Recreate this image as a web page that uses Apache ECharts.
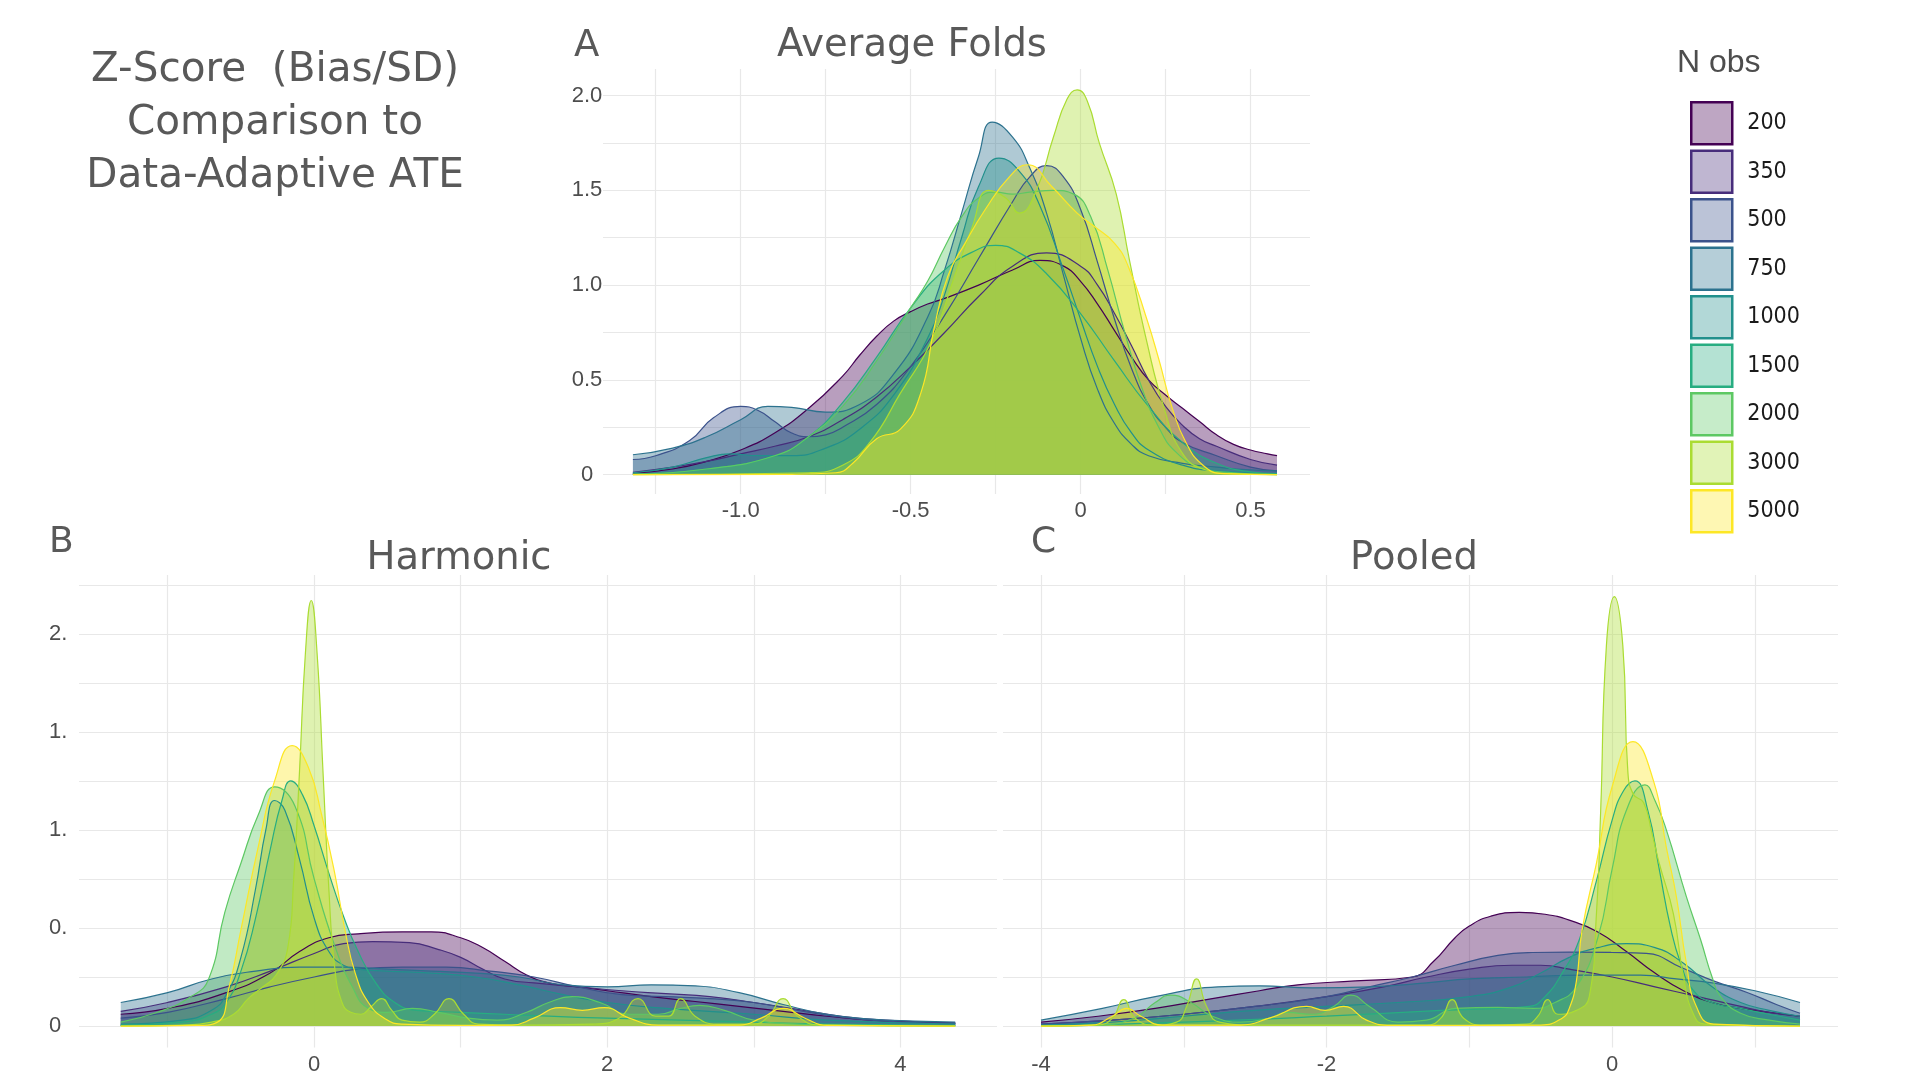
<!DOCTYPE html>
<html>
<head>
<meta charset="utf-8">
<script src="https://cdn.jsdelivr.net/npm/echarts@6/dist/echarts.min.js"></script>
<style>
html, body { margin: 0; padding: 0; background: #fff; }
#main { width: 1920px; height: 1080px; }
</style>
</head>
<body>
<div id="main"></div>
<script>
// N obs groups, viridis palette
var groups = ['200', '350', '500', '750', '1000', '1500', '2000', '3000', '5000'];
var colors = ['#440154', '#472D7B', '#3B528B', '#2C728E', '#21908C', '#27AD81', '#5DC863', '#AADC32', '#FDE725'];

// density curves, [z-score, density]
// A - Average Folds
var avg200 = [[-1.317,0.007],[-1.2,0.03],[-1.1,0.07],[-1.0,0.13],[-0.9,0.22],[-0.8,0.35],[-0.7,0.52],[-0.65,0.63],[-0.6,0.73],[-0.55,0.81],[-0.5,0.86],[-0.45,0.9],[-0.4,0.93],[-0.3,1.0],[-0.2,1.08],[-0.12,1.13],[-0.05,1.1],[0,1.02],[0.05,0.9],[0.1,0.76],[0.15,0.62],[0.2,0.5],[0.25,0.42],[0.3,0.35],[0.35,0.28],[0.4,0.21],[0.45,0.16],[0.5,0.13],[0.55,0.11],[0.578,0.1]];
var avg350 = [[-1.317,0.012],[-1.2,0.04],[-1.1,0.07],[-1.0,0.11],[-0.9,0.15],[-0.8,0.2],[-0.7,0.29],[-0.6,0.41],[-0.5,0.57],[-0.4,0.75],[-0.3,0.94],[-0.2,1.1],[-0.1,1.17],[0,1.1],[0.05,1.0],[0.1,0.85],[0.15,0.68],[0.2,0.5],[0.25,0.36],[0.3,0.26],[0.35,0.19],[0.4,0.15],[0.5,0.08],[0.578,0.05]];
var avg500 = [[-1.317,0.08],[-1.25,0.1],[-1.15,0.18],[-1.08,0.3],[-1.0,0.36],[-0.95,0.34],[-0.9,0.28],[-0.85,0.22],[-0.8,0.2],[-0.75,0.21],[-0.7,0.25],[-0.6,0.37],[-0.5,0.57],[-0.4,0.84],[-0.3,1.14],[-0.2,1.44],[-0.15,1.57],[-0.1,1.63],[-0.05,1.57],[0,1.4],[0.05,1.12],[0.1,0.82],[0.15,0.56],[0.2,0.37],[0.25,0.25],[0.3,0.17],[0.4,0.1],[0.5,0.04],[0.578,0.02]];
var avg750 = [[-1.317,0.105],[-1.2,0.14],[-1.1,0.2],[-1.0,0.29],[-0.92,0.36],[-0.85,0.355],[-0.75,0.33],[-0.65,0.37],[-0.55,0.53],[-0.45,0.83],[-0.4,1.08],[-0.35,1.38],[-0.3,1.68],[-0.26,1.86],[-0.2,1.78],[-0.15,1.62],[-0.1,1.38],[-0.05,1.05],[0,0.72],[0.05,0.45],[0.1,0.27],[0.15,0.16],[0.2,0.1],[0.3,0.06],[0.4,0.04],[0.5,0.025],[0.578,0.02]];
var avg1000 = [[-1.317,0.01],[-1.2,0.04],[-1.1,0.09],[-1.03,0.11],[-0.95,0.1],[-0.85,0.1],[-0.75,0.14],[-0.65,0.24],[-0.55,0.42],[-0.45,0.72],[-0.4,0.95],[-0.35,1.25],[-0.3,1.52],[-0.24,1.67],[-0.18,1.6],[-0.12,1.42],[-0.05,1.08],[0,0.82],[0.05,0.57],[0.1,0.37],[0.15,0.22],[0.2,0.13],[0.3,0.05],[0.4,0.02],[0.578,0.005]];
var avg1500 = [[-1.317,0.003],[-1.1,0.03],[-0.9,0.1],[-0.8,0.2],[-0.7,0.38],[-0.6,0.62],[-0.5,0.88],[-0.4,1.08],[-0.3,1.19],[-0.25,1.21],[-0.18,1.17],[-0.1,1.06],[0,0.85],[0.1,0.6],[0.2,0.36],[0.3,0.17],[0.4,0.06],[0.5,0.015],[0.578,0.005]];
var avg2000 = [[-1.317,0.003],[-1.1,0.03],[-0.9,0.1],[-0.8,0.2],[-0.7,0.36],[-0.6,0.6],[-0.5,0.88],[-0.45,1.02],[-0.4,1.2],[-0.35,1.36],[-0.3,1.46],[-0.25,1.49],[-0.2,1.48],[-0.15,1.49],[-0.08,1.5],[-0.02,1.48],[0.03,1.36],[0.08,1.08],[0.13,0.75],[0.18,0.46],[0.23,0.25],[0.28,0.12],[0.35,0.04],[0.45,0.01],[0.578,0]];
var avg3000 = [[-1.317,0],[-0.8,0.01],[-0.7,0.05],[-0.62,0.17],[-0.53,0.43],[-0.44,0.7],[-0.37,1.05],[-0.32,1.3],[-0.27,1.5],[-0.22,1.46],[-0.18,1.38],[-0.13,1.5],[-0.08,1.78],[-0.04,1.98],[-0.01,2.03],[0.02,1.97],[0.055,1.75],[0.105,1.48],[0.144,1.13],[0.195,0.7],[0.246,0.35],[0.297,0.12],[0.36,0.03],[0.45,0.005],[0.578,0]];
var avg5000 = [[-1.317,0],[-0.85,0.002],[-0.72,0.01],[-0.67,0.06],[-0.6,0.19],[-0.53,0.24],[-0.47,0.43],[-0.43,0.78],[-0.39,1.05],[-0.34,1.22],[-0.28,1.4],[-0.21,1.57],[-0.156,1.635],[-0.085,1.52],[-0.01,1.38],[0.04,1.31],[0.1,1.22],[0.14,1.1],[0.195,0.82],[0.23,0.61],[0.27,0.35],[0.31,0.17],[0.36,0.05],[0.42,0.005],[0.578,0]];

// B - Harmonic
var harm200 = [[-1.32,0.06],[-1.0,0.09],[-0.6,0.17],[-0.3,0.27],[-0.1,0.38],[0.1,0.45],[0.3,0.47],[0.6,0.48],[0.8,0.48],[1.0,0.45],[1.15,0.4],[1.3,0.33],[1.45,0.26],[1.6,0.22],[1.8,0.2],[2.0,0.18],[2.3,0.15],[2.6,0.125],[2.9,0.1],[3.2,0.075],[3.5,0.05],[3.8,0.03],[4.1,0.02],[4.375,0.015]];
var harm350 = [[-1.32,0.075],[-1.0,0.12],[-0.6,0.2],[-0.3,0.28],[0,0.37],[0.2,0.42],[0.4,0.43],[0.65,0.425],[0.85,0.39],[1.0,0.35],[1.15,0.29],[1.3,0.24],[1.5,0.22],[1.8,0.2],[2.1,0.18],[2.4,0.165],[2.7,0.15],[3.0,0.12],[3.3,0.085],[3.6,0.05],[3.9,0.03],[4.2,0.02],[4.375,0.015]];
var harm500 = [[-1.32,0.04],[-1.0,0.07],[-0.6,0.14],[-0.3,0.2],[0,0.25],[0.3,0.29],[0.6,0.3],[0.9,0.3],[1.2,0.28],[1.5,0.25],[1.8,0.2],[2.1,0.16],[2.4,0.15],[2.7,0.14],[3.0,0.12],[3.3,0.08],[3.6,0.045],[3.9,0.025],[4.2,0.015],[4.375,0.012]];
var harm750 = [[-1.32,0.12],[-1.0,0.17],[-0.7,0.24],[-0.4,0.28],[-0.1,0.3],[0.2,0.3],[0.5,0.29],[0.8,0.28],[1.1,0.27],[1.4,0.25],[1.7,0.21],[2.0,0.2],[2.3,0.21],[2.6,0.205],[2.9,0.17],[3.2,0.11],[3.5,0.06],[3.8,0.035],[4.1,0.025],[4.375,0.02]];
var harm1000 = [[-1.32,0.01],[-0.9,0.03],[-0.7,0.08],[-0.6,0.16],[-0.5,0.35],[-0.4,0.7],[-0.33,1.0],[-0.27,1.15],[-0.2,1.1],[-0.1,0.85],[0,0.55],[0.1,0.38],[0.2,0.31],[0.3,0.29],[0.5,0.28],[0.8,0.27],[1.1,0.25],[1.4,0.21],[1.7,0.16],[2.0,0.12],[2.4,0.09],[3.0,0.06],[3.5,0.03],[4.375,0.01]];
var harm1500 = [[-1.32,0.005],[-0.9,0.02],[-0.7,0.06],[-0.6,0.12],[-0.5,0.28],[-0.4,0.55],[-0.3,0.9],[-0.22,1.15],[-0.16,1.25],[-0.08,1.18],[0,1.02],[0.1,0.78],[0.2,0.56],[0.3,0.38],[0.42,0.22],[0.55,0.12],[0.7,0.08],[1.0,0.07],[1.3,0.06],[1.6,0.05],[2.0,0.04],[2.5,0.03],[3.0,0.02],[3.5,0.01],[4.375,0.003]];
var harm2000 = [[-1.32,0.02],[-1.07,0.07],[-0.84,0.15],[-0.72,0.24],[-0.61,0.58],[-0.5,0.83],[-0.38,1.08],[-0.27,1.22],[-0.13,1.12],[0,0.75],[0.14,0.41],[0.26,0.2],[0.37,0.09],[0.5,0.07],[0.67,0.09],[0.85,0.07],[1.05,0.04],[1.25,0.03],[1.45,0.07],[1.6,0.12],[1.76,0.15],[1.95,0.12],[2.15,0.06],[2.35,0.06],[2.5,0.09],[2.63,0.105],[2.8,0.08],[3.0,0.03],[3.3,0.01],[3.6,0.005],[4.375,0]];
var harm3000 = [[-1.32,0],[-0.9,0.005],[-0.7,0.02],[-0.55,0.06],[-0.45,0.14],[-0.35,0.2],[-0.26,0.26],[-0.18,0.4],[-0.14,0.75],[-0.1,1.3],[-0.06,1.9],[-0.02,2.17],[0.02,1.9],[0.06,1.3],[0.1,0.7],[0.14,0.3],[0.19,0.12],[0.25,0.07],[0.32,0.06],[0.39,0.1],[0.46,0.14],[0.53,0.08],[0.6,0.03],[0.72,0.02],[0.82,0.06],[0.92,0.14],[1.02,0.06],[1.12,0.01],[1.4,0.005],[1.9,0.01],[2.08,0.04],[2.21,0.14],[2.33,0.05],[2.42,0.05],[2.5,0.14],[2.6,0.05],[2.75,0.01],[3.0,0.01],[3.1,0.05],[3.2,0.14],[3.3,0.05],[3.45,0.005],[4.375,0]];
var harm5000 = [[-1.32,0],[-0.8,0.003],[-0.66,0.02],[-0.58,0.2],[-0.5,0.49],[-0.38,0.92],[-0.27,1.25],[-0.15,1.43],[-0.04,1.32],[0.05,1.08],[0.14,0.78],[0.21,0.49],[0.28,0.27],[0.37,0.12],[0.49,0.034],[0.6,0.01],[1.0,0.003],[1.35,0.005],[1.5,0.04],[1.68,0.094],[1.83,0.08],[1.98,0.094],[2.15,0.04],[2.35,0.005],[2.9,0.005],[3.05,0.04],[3.2,0.09],[3.35,0.04],[3.5,0.003],[4.375,0]];

// C - Pooled
var pool200 = [[-4.0,0.02],[-3.6,0.05],[-3.2,0.09],[-2.8,0.14],[-2.47,0.18],[-2.2,0.21],[-1.8,0.23],[-1.4,0.25],[-1.25,0.33],[-1.1,0.45],[-1.0,0.51],[-0.85,0.56],[-0.65,0.58],[-0.47,0.57],[-0.3,0.54],[-0.1,0.48],[0.1,0.38],[0.3,0.27],[0.5,0.18],[0.7,0.12],[0.9,0.09],[1.1,0.07],[1.316,0.05]];
var pool350 = [[-4.0,0.01],[-3.5,0.03],[-3.0,0.06],[-2.5,0.1],[-2.0,0.15],[-1.6,0.2],[-1.3,0.25],[-1.0,0.29],[-0.7,0.31],[-0.5,0.31],[-0.3,0.29],[0,0.25],[0.3,0.2],[0.6,0.15],[0.9,0.1],[1.1,0.07],[1.316,0.05]];
var pool500 = [[-4.0,0.01],[-3.5,0.03],[-3.0,0.06],[-2.5,0.1],[-2.0,0.15],[-1.7,0.2],[-1.4,0.25],[-1.1,0.31],[-0.8,0.36],[-0.56,0.375],[-0.3,0.377],[0,0.375],[0.24,0.37],[0.48,0.3],[0.71,0.23],[0.95,0.17],[1.15,0.11],[1.316,0.065]];
var pool750 = [[-4.0,0.03],[-3.57,0.09],[-3.2,0.15],[-2.76,0.2],[-2.47,0.205],[-2.1,0.195],[-1.7,0.2],[-1.3,0.22],[-1.0,0.24],[-0.6,0.25],[-0.2,0.26],[0.2,0.26],[0.45,0.24],[0.7,0.22],[1.0,0.18],[1.316,0.12]];
var pool1000 = [[-4.0,0.005],[-3.5,0.02],[-3.0,0.05],[-2.5,0.08],[-2.0,0.1],[-1.5,0.12],[-1.0,0.15],[-0.7,0.2],[-0.5,0.27],[-0.3,0.35],[-0.1,0.4],[0.1,0.42],[0.3,0.4],[0.5,0.32],[0.7,0.2],[0.9,0.12],[1.1,0.08],[1.316,0.05]];
var pool1500 = [[-4.0,0],[-3.0,0.02],[-2.0,0.05],[-1.2,0.08],[-0.8,0.09],[-0.58,0.1],[-0.47,0.15],[-0.35,0.27],[-0.23,0.44],[-0.11,0.74],[0,1.05],[0.08,1.2],[0.16,1.25],[0.25,1.1],[0.33,0.8],[0.41,0.5],[0.48,0.32],[0.57,0.18],[0.7,0.12],[0.9,0.09],[1.1,0.06],[1.316,0.03]];
var pool2000 = [[-4.0,0],[-3.6,0.005],[-3.35,0.04],[-3.2,0.12],[-3.09,0.158],[-2.95,0.12],[-2.8,0.05],[-2.6,0.02],[-2.4,0.04],[-2.28,0.07],[-2.1,0.06],[-1.95,0.1],[-1.83,0.158],[-1.7,0.1],[-1.5,0.02],[-1.3,0.03],[-1.1,0.09],[-0.8,0.095],[-0.55,0.09],[-0.4,0.12],[-0.25,0.2],[-0.1,0.45],[0,0.8],[0.1,1.1],[0.23,1.23],[0.3,1.15],[0.38,1.0],[0.52,0.66],[0.62,0.44],[0.7,0.25],[0.76,0.15],[0.9,0.065],[1.1,0.03],[1.316,0.01]];
var pool3000 = [[-4.0,0],[-3.6,0.005],[-3.5,0.04],[-3.42,0.135],[-3.34,0.04],[-3.2,0.005],[-3.05,0.02],[-2.98,0.1],[-2.91,0.24],[-2.84,0.1],[-2.75,0.02],[-2.5,0.005],[-1.3,0.005],[-1.2,0.04],[-1.12,0.135],[-1.04,0.04],[-0.9,0.005],[-0.6,0.01],[-0.52,0.05],[-0.45,0.135],[-0.38,0.06],[-0.25,0.08],[-0.16,0.15],[-0.11,0.57],[-0.08,1.1],[-0.04,1.94],[0.016,2.19],[0.075,1.94],[0.11,1.3],[0.15,1.18],[0.22,1.14],[0.28,0.98],[0.33,0.83],[0.43,0.57],[0.5,0.25],[0.57,0.06],[0.65,0.01],[1.316,0]];
var pool5000 = [[-4.0,0],[-3.65,0.005],[-3.5,0.05],[-3.4,0.09],[-3.3,0.05],[-3.15,0.005],[-2.6,0.005],[-2.4,0.04],[-2.14,0.1],[-2.01,0.08],[-1.88,0.1],[-1.72,0.03],[-1.55,0.003],[-0.5,0.005],[-0.35,0.04],[-0.3,0.09],[-0.25,0.23],[-0.21,0.49],[-0.11,0.83],[0,1.22],[0.146,1.45],[0.29,1.25],[0.38,0.91],[0.45,0.66],[0.52,0.32],[0.59,0.1],[0.71,0.01],[1.316,0]];

// axis ranges, gridline positions and tick labels
var xRangeA = [-1.405, 0.675], yRangeA = [-0.102, 2.14];
var xRangeB = [-1.605, 4.66], xRangeC = [-4.266, 1.582], yRangeBC = [-0.11, 2.3];
var xGridA = [-1.25, -1, -0.75, -0.5, -0.25, 0, 0.25, 0.5];
var xTickA = [-1, -0.5, 0, 0.5], xLabelA = ['-1.0', '-0.5', '0', '0.5'];
var yGridA = [0, 0.25, 0.5, 0.75, 1, 1.25, 1.5, 1.75, 2];
var yTickA = [0, 0.5, 1, 1.5, 2], yLabelA = ['0', '0.5', '1.0', '1.5', '2.0'];
var xGridB = [-1, 0, 1, 2, 3, 4];
var xTickB = [0, 2, 4], xLabelB = ['0', '2', '4'];
var xGridC = [-4, -3, -2, -1, 0, 1];
var xTickC = [-4, -2, 0], xLabelC = ['-4', '-2', '0'];
var yGridBC = [0, 0.25, 0.5, 0.75, 1, 1.25, 1.5, 1.75, 2, 2.25];
var yTickB = [0, 0.5, 1, 1.5, 2], yLabelB = ['0', '0.', '1.', '1.', '2.'];

var panels = [
  [avg200, avg350, avg500, avg750, avg1000, avg1500, avg2000, avg3000, avg5000],
  [harm200, harm350, harm500, harm750, harm1000, harm1500, harm2000, harm3000, harm5000],
  [pool200, pool350, pool500, pool750, pool1000, pool1500, pool2000, pool3000, pool5000]
];

function rgba(hex, a) {
  var n = parseInt(hex.slice(1), 16);
  return 'rgba(' + (n >> 16) + ',' + ((n >> 8) & 255) + ',' + (n & 255) + ',' + a + ')';
}

var gridLine = { show: true, lineStyle: { color: '#e8e8e8', width: 1.2 } };
var tickFont = { fontFamily: '"Liberation Sans", Arial, sans-serif', fontSize: 22, color: '#4d4d4d' };

function axis(gi, range, gridVals, tickVals, tickLabels, margin, showLabels, align) {
  var lab = {
    show: showLabels, margin: margin, customValues: tickVals,
    formatter: function (v) { var k = tickVals.indexOf(v); return k >= 0 ? tickLabels[k] : ''; }
  };
  if (align) lab.align = align;
  return {
    type: 'value', gridIndex: gi, min: range[0], max: range[1],
    axisLine: { show: false },
    axisTick: { show: false, customValues: gridVals },
    splitLine: gridLine,
    axisLabel: Object.assign(lab, tickFont)
  };
}

var series = [];
panels.forEach(function (curves, p) {
  curves.forEach(function (curve, i) {
    series.push({
      name: groups[i], type: 'line', xAxisIndex: p, yAxisIndex: p,
      data: curve, smooth: 0.5, symbol: 'none', silent: true,
      lineStyle: { color: colors[i], width: 1.2 },
      itemStyle: { color: colors[i] },
      areaStyle: { color: rgba(colors[i], 0.38), opacity: 1 }
    });
  });
});

var titleFont = '"DejaVu Sans", "Liberation Sans", sans-serif';
function label(text, x, y, size, align, lh) {
  return {
    type: 'text', x: x, y: y, silent: true,
    style: {
      text: text, font: 'normal ' + size + 'px ' + titleFont, fill: '#595959',
      align: align, textAlign: align, verticalAlign: 'middle', textVerticalAlign: 'middle', lineHeight: lh || size
    }
  };
}

var chart = echarts.init(document.getElementById('main'));
chart.setOption({
  backgroundColor: '#ffffff',
  animation: false,
  grid: [
    { left: 603, top: 69, width: 707, height: 425 },
    { left: 79, top: 575, width: 918, height: 472.6 },
    { left: 1003, top: 575, width: 835, height: 472.6 }
  ],
  xAxis: [
    axis(0, xRangeA, xGridA, xTickA, xLabelA, 6, true),
    axis(1, xRangeB, xGridB, xTickB, xLabelB, 6, true),
    axis(2, xRangeC, xGridC, xTickC, xLabelC, 6, true)
  ],
  yAxis: [
    axis(0, yRangeA, yGridA, yTickA, yLabelA, 16, true, 'center'),
    axis(1, yRangeBC, yGridBC, yTickB, yLabelB, 30, true, 'left'),
    axis(2, yRangeBC, yGridBC, yTickB, yLabelB, 10, false)
  ],
  legend: {
    orient: 'vertical', left: 1690, top: 101, padding: 0,
    itemWidth: 41, itemHeight: 42, itemGap: 4, icon: 'rect', selectedMode: false,
    textStyle: { fontFamily: '"Liberation Sans Narrow", "DejaVu Sans Condensed", "Liberation Sans", sans-serif', fontSize: 23, color: '#1a1a1a', padding: [0, 0, 0, 10] },
    data: groups.map(function (g, i) {
      return { name: g, itemStyle: { color: rgba(colors[i], 0.35), borderColor: colors[i], borderWidth: 2.5 } };
    })
  },
  graphic: [
    label('Z-Score  (Bias/SD)\nComparison to\nData-Adaptive ATE', 275, 123, 40.5, 'center', 53),
    label('A', 574, 46, 37, 'left'),
    label('Average Folds', 912, 46, 38.5, 'center'),
    label('B', 49, 543, 36, 'left'),
    label('Harmonic', 459, 559, 38.5, 'center'),
    label('C', 1031, 543, 36, 'left'),
    label('Pooled', 1414, 559, 38.5, 'center'),
    {
      type: 'text', x: 1677, y: 63, silent: true,
      style: { text: 'N obs', font: 'normal 32px "Liberation Sans", Arial, sans-serif', fill: '#4d4d4d', align: 'left', textAlign: 'left', verticalAlign: 'middle', textVerticalAlign: 'middle' }
    }
  ],
  series: series
});
</script>
</body>
</html>
